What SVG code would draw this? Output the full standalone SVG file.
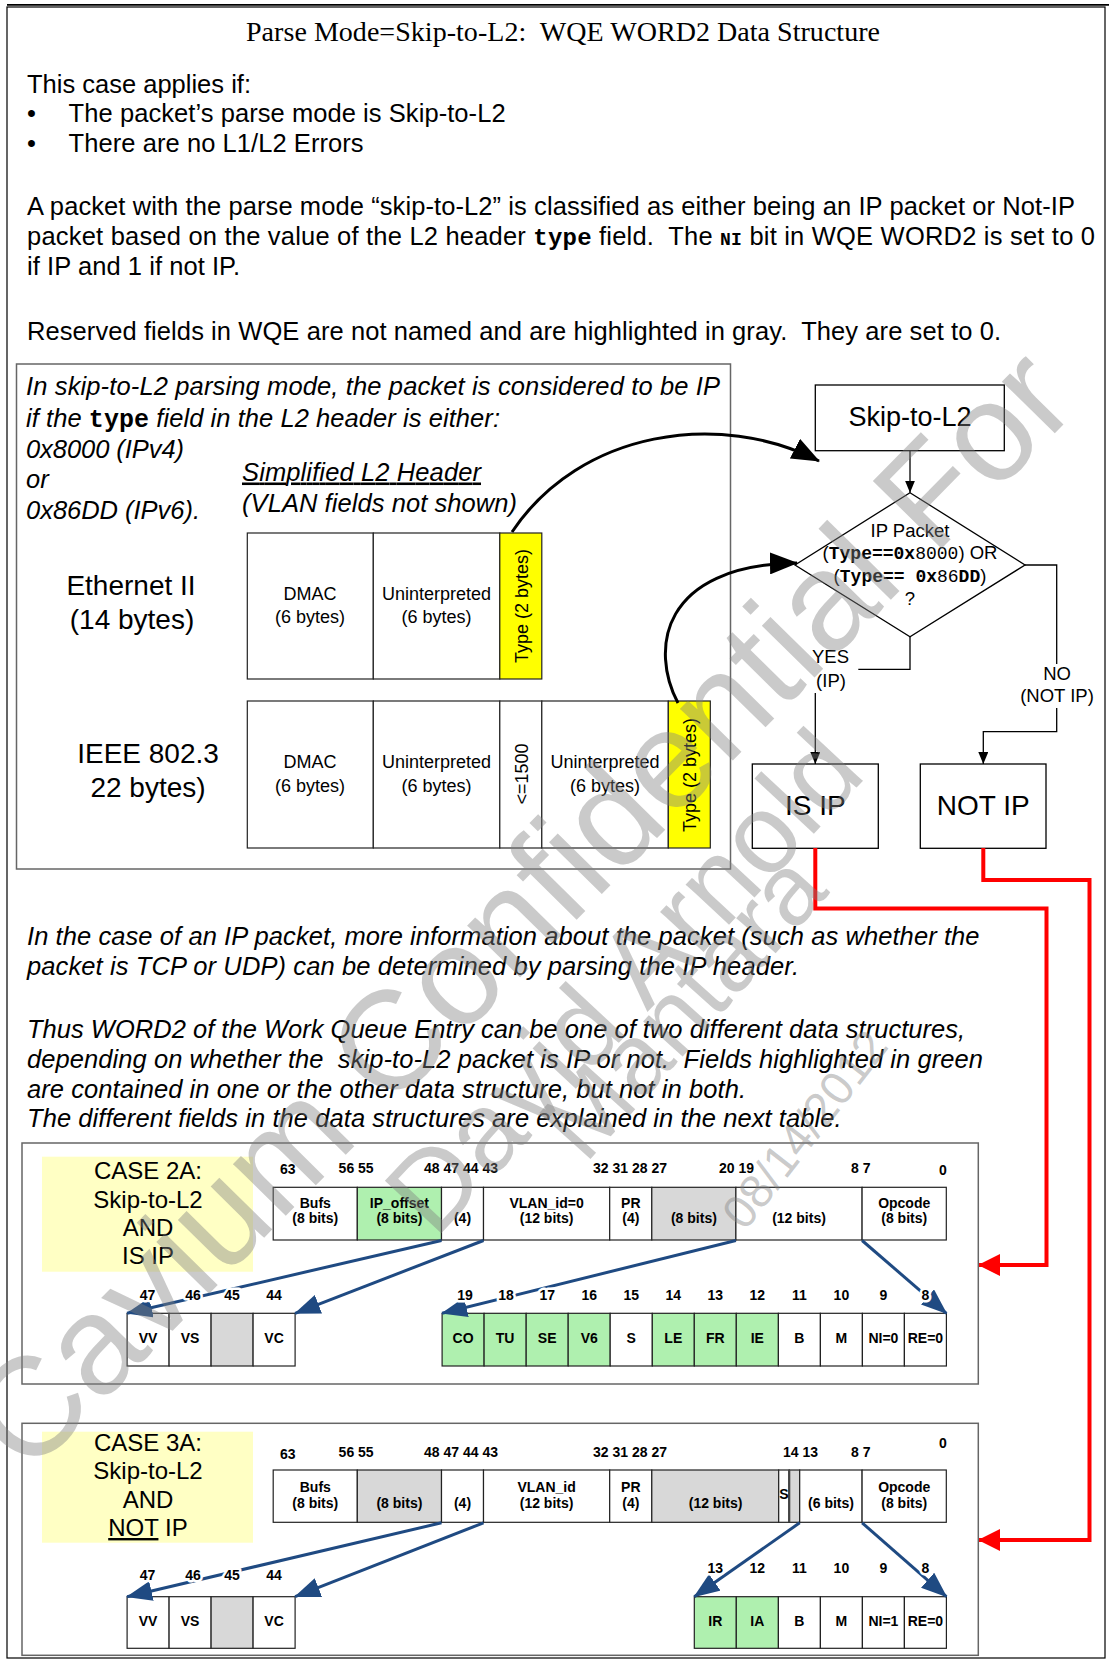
<svg xmlns="http://www.w3.org/2000/svg" width="1109" height="1661" viewBox="0 0 1109 1661">
<style>
text{font-family:"Liberation Sans",Arial,sans-serif;white-space:pre;fill:#000}
.ser{font-family:"Liberation Serif","Times New Roman",serif}
.b{font-weight:bold}
.i{font-style:italic}
.m{font-family:"Liberation Mono","Courier New",monospace;font-weight:bold}
.mn{font-family:"Liberation Mono","Courier New",monospace}
.c{text-anchor:middle}
.cell{stroke:#222;stroke-width:1.2;fill:#fff}
.g{fill:#AFF0AF}
.gr{fill:#D8D8D8}
.y{fill:#FFFF00}
.lb{fill:#FFFFC4}
.fl{fill:none;stroke:#000;stroke-width:1.3}
.bl{fill:none;stroke:#1F4A82;stroke-width:3}
.rd{fill:none;stroke:#FF0000;stroke-width:4}
.cl{font-weight:bold;font-size:14px;text-anchor:middle}
.nm{font-weight:bold;font-size:14px;stroke:#fff;stroke-width:5;paint-order:stroke;stroke-linejoin:round}
.nmc{text-anchor:middle}
.wm{fill:#808080;fill-opacity:0.42;font-family:"Liberation Sans",Arial,sans-serif}
</style>
<defs>
<marker id="ah" viewBox="0 0 12 10" refX="12" refY="5" markerWidth="12" markerHeight="10" markerUnits="userSpaceOnUse" orient="auto"><path d="M0,0L12,5L0,10z" fill="#000"/></marker>
<marker id="ch" viewBox="0 0 28 22" refX="27" refY="11" markerWidth="28" markerHeight="22" markerUnits="userSpaceOnUse" orient="auto"><path d="M0,0L28,11L0,22z" fill="#000"/></marker>
<marker id="rh" viewBox="0 0 22 22" refX="21" refY="11" markerWidth="22" markerHeight="22" markerUnits="userSpaceOnUse" orient="auto"><path d="M0,0L22,11L0,22z" fill="#FF0000"/></marker>
<marker id="bh" viewBox="0 0 26 20" refX="25" refY="10" markerWidth="26" markerHeight="20" markerUnits="userSpaceOnUse" orient="auto"><path d="M0,0L26,10L0,20z" fill="#1F4A82"/></marker>
</defs>
<rect width="1109" height="1661" fill="#fff"/>
<g id="frame">
<line x1="7" y1="4.8" x2="1109" y2="4.8" stroke="#000" stroke-width="1.8"/>
<rect x="7" y="7" width="1098" height="1651" fill="none" stroke="#000" stroke-width="1.2"/>
</g>
<g id="intro">
<text class="ser c" x="563" y="41" font-size="28" textLength="634">Parse Mode=Skip-to-L2:  WQE WORD2 Data Structure</text>
<text x="27" y="93" font-size="25.5" textLength="224">This case applies if:</text>
<text x="27" y="122" font-size="25.5">•</text>
<text x="68.6" y="122" font-size="25.5" textLength="437">The packet’s parse mode is Skip-to-L2</text>
<text x="27" y="152" font-size="25.5">•</text>
<text x="68.6" y="152" font-size="25.5" textLength="295">There are no L1/L2 Errors</text>
<text x="27" y="215" font-size="25.5" textLength="1048">A packet with the parse mode “skip-to-L2” is classified as either being an IP packet or Not-IP</text>
<text x="27" y="245" font-size="25.5" textLength="1068">packet based on the value of the L2 header <tspan class="m" font-size="24">type</tspan> field.  The <tspan class="m" font-size="18">NI</tspan> bit in WQE WORD2 is set to 0</text>
<text x="27" y="275" font-size="25.5" textLength="213">if IP and 1 if not IP.</text>
<text x="27" y="340" font-size="25.5" textLength="974">Reserved fields in WQE are not named and are highlighted in gray.  They are set to 0.</text>
</g>
<g id="l2box">
<rect x="16.5" y="364" width="714" height="505" fill="none" stroke="#666" stroke-width="1.5"/>
<text class="i" x="26" y="395" font-size="25.5" textLength="694">In skip-to-L2 parsing mode, the packet is considered to be IP</text>
<text class="i" x="26" y="426.5" font-size="25.5" textLength="474">if the <tspan class="m" font-style="normal" font-size="25">type</tspan> field in the L2 header is either:</text>
<text class="i" x="26" y="458" font-size="25.5" textLength="158">0x8000 (IPv4)</text>
<text class="i" x="26" y="488" font-size="25.5">or</text>
<text class="i" x="26" y="519" font-size="25.5" textLength="174">0x86DD (IPv6).</text>
<text class="i" x="242" y="480.5" font-size="25.5" textLength="239" text-decoration="underline">Simplified L2 Header</text>
<text class="i" x="242" y="511.5" font-size="25.5" textLength="275">(VLAN fields not shown)</text>
</g>
<g id="ethernet2">
<text class="c" x="131" y="595" font-size="28">Ethernet II</text>
<text class="c" x="132" y="629" font-size="28">(14 bytes)</text>
<rect class="cell" x="247.3" y="533" width="126" height="146"/>
<rect class="cell" x="373.3" y="533" width="126.5" height="146"/>
<rect class="cell y" x="499.8" y="533" width="42" height="146"/>
<text class="c" x="310" y="600" font-size="18">DMAC</text>
<text class="c" x="310" y="623" font-size="18">(6 bytes)</text>
<text class="c" x="436.5" y="600" font-size="18">Uninterpreted</text>
<text class="c" x="436.5" y="623" font-size="18">(6 bytes)</text>
<text class="c" transform="translate(528,606) rotate(-90)" font-size="18">Type (2 bytes)</text>
</g>
<g id="ieee8023">
<text class="c" x="148" y="763" font-size="28">IEEE 802.3</text>
<text class="c" x="148" y="797" font-size="28">22 bytes)</text>
<rect class="cell" x="247.3" y="701" width="126" height="147"/>
<rect class="cell" x="373.3" y="701" width="126.5" height="147"/>
<rect class="cell" x="499.8" y="701" width="42" height="147"/>
<rect class="cell" x="541.8" y="701" width="126.5" height="147"/>
<rect class="cell y" x="668.3" y="701" width="42" height="147"/>
<text class="c" x="310" y="768" font-size="18">DMAC</text>
<text class="c" x="310" y="792" font-size="18">(6 bytes)</text>
<text class="c" x="436.5" y="768" font-size="18">Uninterpreted</text>
<text class="c" x="436.5" y="792" font-size="18">(6 bytes)</text>
<text class="c" transform="translate(528,774) rotate(-90)" font-size="18">&lt;=1500</text>
<text class="c" x="605" y="768" font-size="18">Uninterpreted</text>
<text class="c" x="605" y="792" font-size="18">(6 bytes)</text>
<text class="c" transform="translate(696,775) rotate(-90)" font-size="18">Type (2 bytes)</text>
</g>
<g id="skip-node">
<rect x="815.3" y="385" width="189" height="65.7" fill="#fff" stroke="#000" stroke-width="1.3"/>
<text class="c" x="910" y="425.5" font-size="27">Skip-to-L2</text>
</g>
<g id="decision">
<path d="M910,492.7 L1025,565 L910,636.7 L795,565 Z" fill="#fff" stroke="#000" stroke-width="1.3"/>
<text class="c" x="910" y="536.7" font-size="18.5">IP Packet</text>
<text class="c" x="910" y="559" font-size="18.5">(<tspan class="m" font-size="18">Type==0x</tspan><tspan class="mn" font-size="18">8000</tspan>) OR</text>
<text class="c" x="910" y="581.7" font-size="18.5">(<tspan class="m" font-size="18">Type== 0x</tspan><tspan class="mn" font-size="18">86</tspan><tspan class="m" font-size="18">DD</tspan>)</text>
<text class="c" x="910" y="605" font-size="18.5">?</text>
</g>
<g id="isip-node">
<rect x="752.3" y="764" width="126" height="84.3" fill="#fff" stroke="#000" stroke-width="1.3"/>
<text class="c" x="815.3" y="815" font-size="28">IS IP</text>
</g>
<g id="notip-node">
<rect x="920.3" y="764" width="125.7" height="84.3" fill="#fff" stroke="#000" stroke-width="1.3"/>
<text class="c" x="983.2" y="815" font-size="28">NOT IP</text>
</g>
<g id="connectors">
<path class="fl" d="M910,450.7 V492.7" marker-end="url(#ah)"/>
<path class="fl" d="M910,636.7 V669.3 H815.3 V764" marker-end="url(#ah)"/>
<path class="fl" d="M1025,565 H1056.7 V731.7 H983.3 V764" marker-end="url(#ah)"/>
<rect x="803" y="648" width="55.3" height="45" fill="#fff"/>
<text class="c" x="830.5" y="663" font-size="18.5">YES</text>
<text class="c" x="831" y="686.7" font-size="18.5">(IP)</text>
<rect x="1018" y="664" width="80" height="44" fill="#fff"/>
<text class="c" x="1057" y="680" font-size="18.5">NO</text>
<text class="c" x="1057" y="701.7" font-size="18.5">(NOT IP)</text>
<path d="M512,532 C580,430 720,410 819,461" fill="none" stroke="#000" stroke-width="3" marker-end="url(#ch)"/>
<path d="M678,703 C650,650 660,565 797,563" fill="none" stroke="#000" stroke-width="3" marker-end="url(#ch)"/>
<path class="rd" d="M815.3,848 V908.5 H1046.5 V1265 H979" marker-end="url(#rh)"/>
<path class="rd" d="M983.3,848 V880 H1089.5 V1540 H979" marker-end="url(#rh)"/>
</g>
<g id="ip-text">
<text class="i" x="27" y="945" font-size="25.5" textLength="952.5">In the case of an IP packet, more information about the packet (such as whether the</text>
<text class="i" x="27" y="975" font-size="25.5" textLength="772">packet is TCP or UDP) can be determined by parsing the IP header.</text>
<text class="i" x="27" y="1038" font-size="25.5" textLength="938">Thus WORD2 of the Work Queue Entry can be one of two different data structures,</text>
<text class="i" x="27" y="1068" font-size="25.5" textLength="956">depending on whether the  skip-to-L2 packet is IP or not.  Fields highlighted in green</text>
<text class="i" x="27" y="1098" font-size="25.5" textLength="719">are contained in one or the other data structure, but not in both.</text>
<text class="i" x="27" y="1127" font-size="25.5" textLength="814.6">The different fields in the data structures are explained in the next table.</text>
</g>
<g id="case2a">
<rect x="22" y="1143" width="956.3" height="241" fill="none" stroke="#666" stroke-width="1.5"/>
<rect class="lb" x="42" y="1156.7" width="211" height="115"/>
<text class="c" x="148" y="1179" font-size="24">CASE 2A:</text>
<text class="c" x="148" y="1207.5" font-size="24">Skip-to-L2</text>
<text class="c" x="148" y="1236" font-size="24">AND</text>
<text class="c" x="148" y="1264" font-size="24">IS IP</text>
<text class="nm" x="280" y="1174">63</text>
<text class="nm" x="338.6" y="1173">56 55</text>
<text class="nm" x="424" y="1173">48 47 44 43</text>
<text class="nm" x="593" y="1173">32 31 28 27</text>
<text class="nm" x="719" y="1173">20 19</text>
<text class="nm" x="851" y="1173">8 7</text>
<text class="nm" x="939" y="1175">0</text>
<rect class="cell" x="273.2" y="1187.3" width="84.1" height="52.7"/>
<rect class="cell g" x="357.3" y="1187.3" width="84.2" height="52.7"/>
<rect class="cell" x="441.5" y="1187.3" width="42" height="52.7"/>
<rect class="cell" x="483.5" y="1187.3" width="126.2" height="52.7"/>
<rect class="cell" x="609.7" y="1187.3" width="42.1" height="52.7"/>
<rect class="cell gr" x="651.8" y="1187.3" width="84.1" height="52.7"/>
<rect class="cell" x="735.9" y="1187.3" width="126.2" height="52.7"/>
<rect class="cell" x="862.1" y="1187.3" width="84.2" height="52.7"/>
<text class="cl" x="315.3" y="1208.3">Bufs</text>
<text class="cl" x="315.3" y="1223.3">(8 bits)</text>
<text class="cl" x="399.4" y="1208.3">IP_offset</text>
<text class="cl" x="399.4" y="1223.3">(8 bits)</text>
<text class="cl" x="462.5" y="1223.3">(4)</text>
<text class="cl" x="546.6" y="1208.3">VLAN_id=0</text>
<text class="cl" x="546.6" y="1223.3">(12 bits)</text>
<text class="cl" x="630.8" y="1208.3">PR</text>
<text class="cl" x="630.8" y="1223.3">(4)</text>
<text class="cl" x="693.9" y="1223.3">(8 bits)</text>
<text class="cl" x="799" y="1223.3">(12 bits)</text>
<text class="cl" x="904.2" y="1208.3">Opcode</text>
<text class="cl" x="904.2" y="1223.3">(8 bits)</text>
<rect class="cell" x="127.1" y="1313.3" width="42" height="52.7"/>
<rect class="cell" x="169.1" y="1313.3" width="42" height="52.7"/>
<rect class="cell gr" x="211.1" y="1313.3" width="42" height="52.7"/>
<rect class="cell" x="253.1" y="1313.3" width="42" height="52.7"/>
<text class="cl" x="148.1" y="1343.3">VV</text>
<text class="cl" x="190.1" y="1343.3">VS</text>
<text class="cl" x="274.1" y="1343.3">VC</text>
<rect class="cell g" x="442.1" y="1313.3" width="42" height="52.7"/>
<rect class="cell g" x="484.1" y="1313.3" width="42.1" height="52.7"/>
<rect class="cell g" x="526.2" y="1313.3" width="42" height="52.7"/>
<rect class="cell g" x="568.2" y="1313.3" width="42" height="52.7"/>
<rect class="cell" x="610.2" y="1313.3" width="42.1" height="52.7"/>
<rect class="cell g" x="652.3" y="1313.3" width="42" height="52.7"/>
<rect class="cell g" x="694.3" y="1313.3" width="42" height="52.7"/>
<rect class="cell g" x="736.3" y="1313.3" width="42.1" height="52.7"/>
<rect class="cell" x="778.4" y="1313.3" width="42" height="52.7"/>
<rect class="cell" x="820.4" y="1313.3" width="42" height="52.7"/>
<rect class="cell" x="862.4" y="1313.3" width="42" height="52.7"/>
<rect class="cell" x="904.4" y="1313.3" width="42" height="52.7"/>
<text class="cl" x="463.1" y="1343.3">CO</text>
<text class="cl" x="505.1" y="1343.3">TU</text>
<text class="cl" x="547.2" y="1343.3">SE</text>
<text class="cl" x="589.2" y="1343.3">V6</text>
<text class="cl" x="631.2" y="1343.3">S</text>
<text class="cl" x="673.3" y="1343.3">LE</text>
<text class="cl" x="715.3" y="1343.3">FR</text>
<text class="cl" x="757.3" y="1343.3">IE</text>
<text class="cl" x="799.4" y="1343.3">B</text>
<text class="cl" x="841.4" y="1343.3">M</text>
<text class="cl" x="883.4" y="1343.3">NI=0</text>
<text class="cl" x="925.4" y="1343.3">RE=0</text>
</g>
<g id="case2a-links">
<path class="bl" d="M441.5,1240.5 L127.1,1313.3" marker-end="url(#bh)"/>
<path class="bl" d="M483.5,1240.5 L295.1,1313.3" marker-end="url(#bh)"/>
<path class="bl" d="M735.9,1240.5 L442.1,1313.3" marker-end="url(#bh)"/>
<path class="bl" d="M862.1,1240.5 L946.4,1313.3" marker-end="url(#bh)"/>
</g>
<g id="case2a-bits">
<text class="nm nmc" x="147.5" y="1300">47</text>
<text class="nm nmc" x="193" y="1300">46</text>
<text class="nm nmc" x="232" y="1300">45</text>
<text class="nm nmc" x="274" y="1300">44</text>
<text class="nm nmc" x="465" y="1300">19</text>
<text class="nm nmc" x="506" y="1300">18</text>
<text class="nm nmc" x="547.2" y="1300">17</text>
<text class="nm nmc" x="589.2" y="1300">16</text>
<text class="nm nmc" x="631.2" y="1300">15</text>
<text class="nm nmc" x="673.3" y="1300">14</text>
<text class="nm nmc" x="715.3" y="1300">13</text>
<text class="nm nmc" x="757.3" y="1300">12</text>
<text class="nm nmc" x="799.4" y="1300">11</text>
<text class="nm nmc" x="841.4" y="1300">10</text>
<text class="nm nmc" x="883.4" y="1300">9</text>
<text class="nm nmc" x="925.4" y="1300">8</text>
</g>
<g id="case3a">
<rect x="22" y="1423.3" width="956.3" height="232" fill="none" stroke="#666" stroke-width="1.5"/>
<rect class="lb" x="42" y="1431.7" width="211" height="111"/>
<text class="c" x="148" y="1450.5" font-size="24">CASE 3A:</text>
<text class="c" x="148" y="1479" font-size="24">Skip-to-L2</text>
<text class="c" x="148" y="1508" font-size="24">AND</text>
<text class="c" x="148" y="1536" font-size="24"><tspan text-decoration="underline">NOT</tspan> IP</text>
<text class="nm" x="280" y="1459.3">63</text>
<text class="nm" x="338.6" y="1456.7">56 55</text>
<text class="nm" x="424" y="1456.7">48 47 44 43</text>
<text class="nm" x="593" y="1456.7">32 31 28 27</text>
<text class="nm" x="783" y="1456.7">14 13</text>
<text class="nm" x="851" y="1456.7">8 7</text>
<text class="nm" x="939" y="1448.3">0</text>
<rect class="cell" x="273.2" y="1470" width="84.1" height="52.3"/>
<rect class="cell gr" x="357.3" y="1470" width="84.2" height="52.3"/>
<rect class="cell" x="441.5" y="1470" width="42" height="52.3"/>
<rect class="cell" x="483.5" y="1470" width="126.2" height="52.3"/>
<rect class="cell" x="609.7" y="1470" width="42.1" height="52.3"/>
<rect class="cell gr" x="651.8" y="1470" width="126.9" height="52.3"/>
<rect class="cell" x="778.7" y="1470" width="10.5" height="52.3"/>
<rect class="cell gr" x="789.2" y="1470" width="10.5" height="52.3"/>
<line x1="789.2" y1="1470" x2="789.2" y2="1522.3" stroke="#444" stroke-width="2.2"/>
<rect class="cell" x="799.7" y="1470" width="62.4" height="52.3"/>
<rect class="cell" x="862.1" y="1470" width="84.2" height="52.3"/>
<text class="cl" x="315.3" y="1491.7">Bufs</text>
<text class="cl" x="315.3" y="1508.3">(8 bits)</text>
<text class="cl" x="399.4" y="1508.3">(8 bits)</text>
<text class="cl" x="462.5" y="1508.3">(4)</text>
<text class="cl" x="546.6" y="1491.7">VLAN_id</text>
<text class="cl" x="546.6" y="1508.3">(12 bits)</text>
<text class="cl" x="630.8" y="1491.7">PR</text>
<text class="cl" x="630.8" y="1508.3">(4)</text>
<text class="cl" x="715.6" y="1508.3">(12 bits)</text>
<text class="cl" x="784" y="1499" font-size="13">S</text>
<text class="cl" x="831" y="1508.3">(6 bits)</text>
<text class="cl" x="904.2" y="1491.7">Opcode</text>
<text class="cl" x="904.2" y="1508.3">(8 bits)</text>
<rect class="cell" x="127.1" y="1596.7" width="42" height="51.6"/>
<rect class="cell" x="169.1" y="1596.7" width="42" height="51.6"/>
<rect class="cell gr" x="211.1" y="1596.7" width="42" height="51.6"/>
<rect class="cell" x="253.1" y="1596.7" width="42" height="51.6"/>
<text class="cl" x="148.1" y="1626">VV</text>
<text class="cl" x="190.1" y="1626">VS</text>
<text class="cl" x="274.1" y="1626">VC</text>
<rect class="cell g" x="694.3" y="1596.7" width="42" height="51.6"/>
<rect class="cell g" x="736.3" y="1596.7" width="42.1" height="51.6"/>
<rect class="cell" x="778.4" y="1596.7" width="42" height="51.6"/>
<rect class="cell" x="820.4" y="1596.7" width="42" height="51.6"/>
<rect class="cell" x="862.4" y="1596.7" width="42" height="51.6"/>
<rect class="cell" x="904.4" y="1596.7" width="42" height="51.6"/>
<text class="cl" x="715.3" y="1626">IR</text>
<text class="cl" x="757.3" y="1626">IA</text>
<text class="cl" x="799.4" y="1626">B</text>
<text class="cl" x="841.4" y="1626">M</text>
<text class="cl" x="883.4" y="1626">NI=1</text>
<text class="cl" x="925.4" y="1626">RE=0</text>
</g>
<g id="case3a-links">
<path class="bl" d="M441.5,1522.8 L127.1,1596.7" marker-end="url(#bh)"/>
<path class="bl" d="M483.5,1522.8 L295.1,1596.7" marker-end="url(#bh)"/>
<path class="bl" d="M799.7,1522.8 L694.3,1596.7" marker-end="url(#bh)"/>
<path class="bl" d="M862.1,1522.8 L946.4,1596.7" marker-end="url(#bh)"/>
</g>
<g id="case3a-bits">
<text class="nm nmc" x="147.5" y="1580">47</text>
<text class="nm nmc" x="193" y="1580">46</text>
<text class="nm nmc" x="232" y="1580">45</text>
<text class="nm nmc" x="274" y="1580">44</text>
<text class="nm nmc" x="715.3" y="1573.3">13</text>
<text class="nm nmc" x="757.3" y="1573.3">12</text>
<text class="nm nmc" x="799.4" y="1573.3">11</text>
<text class="nm nmc" x="841.4" y="1573.3">10</text>
<text class="nm nmc" x="883.4" y="1573.3">9</text>
<text class="nm nmc" x="925.4" y="1573.3">8</text>
</g>
<g id="watermark">
<text class="wm" transform="translate(28,1478) rotate(-45.5)" font-size="140">Cavium Confidential For</text>
<text class="wm" transform="translate(435,1240) rotate(-47)" font-size="112">David Arnold</text>
<text class="wm" transform="translate(585,1165) rotate(-48)" font-size="100">Mantara</text>
<text class="wm" transform="translate(745,1232) rotate(-52)" font-size="47">08/14/2012</text>
</g>
</svg>
